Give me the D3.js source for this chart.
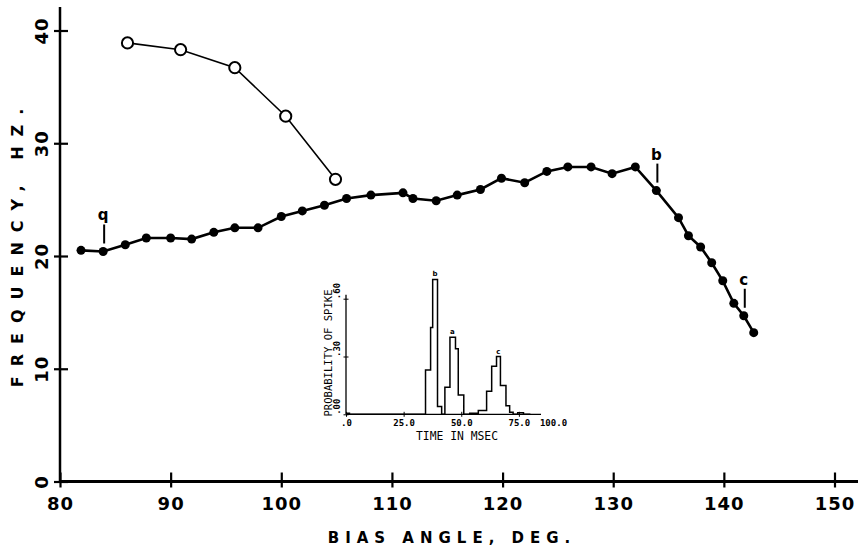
<!DOCTYPE html>
<html>
<head>
<meta charset="utf-8">
<script src="https://cdn.jsdelivr.net/npm/d3@7/dist/d3.min.js"></script>
<style>
  html, body { margin: 0; padding: 0; background: #fff; }
  svg { display: block; }
</style>
</head>
<body>
<svg id="chart" width="858" height="550"></svg>
<script>
// ---------- data ----------
const biasAngle = [81.9, 83.9, 85.9, 87.8, 90.0, 91.9, 93.9, 95.8, 97.9, 100.0, 101.9, 103.9, 105.9, 108.1, 111.0, 111.9, 114.0, 115.9, 118.0, 119.9, 122.0, 124.0, 125.9, 128.0, 129.9, 132.0, 133.9, 135.9, 136.8, 137.9, 138.9, 139.9, 140.9, 141.8, 142.7];
const frequency = [20.5, 20.4, 21.0, 21.6, 21.6, 21.5, 22.1, 22.5, 22.5, 23.5, 24.0, 24.5, 25.1, 25.4, 25.6, 25.1, 24.9, 25.4, 25.9, 26.9, 26.5, 27.5, 27.9, 27.9, 27.3, 27.9, 25.8, 23.4, 21.8, 20.8, 19.4, 17.8, 15.8, 14.7, 13.2];

const openAngle = [86.1, 90.9, 95.8, 100.4, 104.9];
const openFreq = [38.9, 38.3, 36.7, 32.4, 26.8];

// marked points a, b, c on the main curve
const markLabels = ["q", "b", "c"];
const markAngle = [83.9, 133.9, 141.8];
const markFreq = [20.4, 25.8, 14.7];

const xTicks = [80, 90, 100, 110, 120, 130, 140, 150];
const yTicks = [0, 10, 20, 30, 40];

// inset histogram (bin start in msec, probability of spike)
const binStart = [0, 1.5, 33.5, 34.5, 36.7, 37.6, 39.7, 41.5, 42.9, 45.1, 47.5, 48.7, 51.1, 53.7, 57.4, 61.0, 63.2, 65.3, 67.0, 69.4, 71.0, 72.5, 74.5, 77.0];
const binProb  = [0.005, 0, 0, 0.23, 0.45, 0.70, 0.04, 0.0, 0.14, 0.40, 0.34, 0.10, 0.0, 0.005, 0.02, 0.12, 0.25, 0.30, 0.15, 0.045, 0.01, 0.0, 0.008, 0.0];
const binEnd = 80;
const peakLabels = ["b", "a", "c"];
const peakTime = [38.6, 46.2, 66.1];
const peakProb = [0.70, 0.40, 0.30];
const insetXTicks = [0, 25, 50, 75, 100];
const insetXTickLabels = [".0", "25.0", "50.0", "75.0", "100.0"];
const insetYTicks = [0, 0.30, 0.60];
const insetYTickLabels = [".00", ".30", ".60"];

// ---------- chart ----------
const svg = d3.select("#chart");
const FONT = "'DejaVu Sans', sans-serif";
const MONO = "'DejaVu Sans Mono', monospace";

const x = d3.scaleLinear().domain([80, 150]).range([60, 834.5]);
const y = d3.scaleLinear().domain([0, 40]).range([481.5, 30.5]);

// axes lines
svg.append("line").attr("x1", x(80)).attr("x2", 858).attr("y1", y(0)).attr("y2", y(0))
  .attr("stroke", "#000").attr("stroke-width", 3);
svg.append("line").attr("x1", x(80)).attr("x2", x(80)).attr("y1", 7).attr("y2", y(0))
  .attr("stroke", "#000").attr("stroke-width", 2.5);

// x axis ticks (via d3 axis)
const gx = svg.append("g").attr("transform", `translate(0,${y(0)})`)
  .call(d3.axisBottom(x).tickValues(xTicks).tickSize(0).tickFormat(d => d));
gx.select(".domain").remove();
gx.selectAll(".tick line").attr("y1", -9).attr("y2", 6).attr("stroke-width", 2.2);
gx.selectAll(".tick text").attr("dy", null).attr("y", 28)
  .attr("font-family", FONT).attr("font-weight", "bold").attr("font-size", 18)
  .attr("letter-spacing", 1).attr("fill", "#000");

// y axis ticks
const gy = svg.append("g").attr("transform", `translate(${x(80)},0)`)
  .call(d3.axisLeft(y).tickValues(yTicks).tickSize(0).tickFormat(d => d));
gy.select(".domain").remove();
gy.selectAll(".tick line").attr("x1", -6).attr("x2", 8).attr("stroke-width", 2.2);
gy.selectAll(".tick text").attr("x", null).attr("dy", null)
  .attr("transform", "translate(-19,0) rotate(-90)")
  .attr("text-anchor", "middle").attr("dominant-baseline", "central")
  .attr("font-family", FONT).attr("font-weight", "bold").attr("font-size", 18)
  .attr("letter-spacing", 1).attr("fill", "#000");

// axis titles
svg.append("text").attr("x", 452).attr("y", 543).attr("text-anchor", "middle")
  .attr("font-family", FONT).attr("font-weight", "bold").attr("font-size", 15)
  .attr("letter-spacing", 6).text("BIAS ANGLE, DEG.");
svg.append("text").attr("transform", "translate(23,243) rotate(-90)").attr("text-anchor", "middle")
  .attr("font-family", FONT).attr("font-weight", "bold").attr("font-size", 16)
  .attr("letter-spacing", 10).text("FREQUENCY, HZ.");

// open-circle series
const openData = openAngle.map((a, i) => [a, openFreq[i]]);
svg.append("path").datum(openData)
  .attr("d", d3.line().x(d => x(d[0])).y(d => y(d[1])))
  .attr("fill", "none").attr("stroke", "#000").attr("stroke-width", 1.6);
svg.selectAll(".open").data(openData).enter().append("circle")
  .attr("cx", d => x(d[0])).attr("cy", d => y(d[1])).attr("r", 5.6)
  .attr("fill", "#fff").attr("stroke", "#000").attr("stroke-width", 2);

// filled series
const mainData = biasAngle.map((a, i) => [a, frequency[i]]);
svg.append("path").datum(mainData)
  .attr("d", d3.line().x(d => x(d[0])).y(d => y(d[1])))
  .attr("fill", "none").attr("stroke", "#000").attr("stroke-width", 2.6);
svg.selectAll(".dot").data(mainData).enter().append("circle")
  .attr("cx", d => x(d[0])).attr("cy", d => y(d[1])).attr("r", 4.5).attr("fill", "#000");

// markers a, b, c
markLabels.forEach((lab, i) => {
  const px = x(markAngle[i]), py = y(markFreq[i]);
  svg.append("line").attr("x1", px + 1).attr("x2", px + 1).attr("y1", py - 8).attr("y2", py - 27)
    .attr("stroke", "#000").attr("stroke-width", 2);
  svg.append("text").attr("x", px).attr("y", py - 31).attr("text-anchor", "middle")
    .attr("font-family", FONT).attr("font-weight", "bold").attr("font-size", 15)
    .text(lab);
});

// ---------- inset histogram ----------
const ix = d3.scaleLinear().domain([0, 100]).range([346, 576.5]);
const iy = d3.scaleLinear().domain([0, 0.60]).range([414.3, 298.7]);

// axes
svg.append("line").attr("x1", ix(0)).attr("x2", 541).attr("y1", iy(0)).attr("y2", iy(0))
  .attr("stroke", "#000").attr("stroke-width", 1.3);
svg.append("line").attr("x1", ix(0)).attr("x2", ix(0)).attr("y1", iy(0)).attr("y2", iy(0.62))
  .attr("stroke", "#000").attr("stroke-width", 1.3);

const gix = svg.append("g").attr("transform", `translate(0,${iy(0)})`)
  .call(d3.axisBottom(ix).tickValues(insetXTicks.slice(0, 4)).tickSize(0)
    .tickFormat((d, i) => insetXTickLabels[i]));
gix.select(".domain").remove();
gix.selectAll(".tick line").attr("y1", -2.5).attr("y2", 2.5).attr("stroke-width", 1);
gix.selectAll(".tick text").attr("dy", null).attr("y", 12)
  .attr("font-family", MONO).attr("font-weight", "bold").attr("font-size", 9).attr("fill", "#000");
// last tick label of the inset time axis, printed left of its nominal place in the original
svg.append("text").attr("x", ix(insetXTicks[4]) - 23).attr("y", iy(0) + 12).attr("text-anchor", "middle")
  .attr("font-family", MONO).attr("font-weight", "bold").attr("font-size", 9)
  .text(insetXTickLabels[4]);

const giy = svg.append("g").attr("transform", `translate(${ix(0)},0)`)
  .call(d3.axisLeft(iy).tickValues(insetYTicks).tickSize(0).tickFormat((d, i) => insetYTickLabels[i]));
giy.select(".domain").remove();
giy.selectAll(".tick line").attr("x1", -2.5).attr("x2", 2.5).attr("stroke-width", 1);
giy.selectAll(".tick text").attr("x", null).attr("dy", null)
  .attr("transform", "translate(-6,0) rotate(-90)")
  .attr("text-anchor", "start").attr("dominant-baseline", "auto")
  .attr("font-family", MONO).attr("font-weight", "bold").attr("font-size", 9).attr("fill", "#000");

// histogram step outline
const histData = binStart.map((t, i) => [t, binProb[i]]).concat([[binEnd, 0]]);
svg.append("path").datum(histData)
  .attr("d", d3.line().x(d => ix(d[0])).y(d => iy(d[1])).curve(d3.curveStepAfter))
  .attr("fill", "none").attr("stroke", "#000").attr("stroke-width", 1.5);

peakLabels.forEach((lab, i) => {
  svg.append("text").attr("x", ix(peakTime[i])).attr("y", iy(peakProb[i]) - 3)
    .attr("text-anchor", "middle").attr("font-family", FONT).attr("font-weight", "bold")
    .attr("font-size", 7).text(lab);
});

// inset axis titles
svg.append("text").attr("x", 457).attr("y", 440).attr("text-anchor", "middle")
  .attr("font-family", MONO).attr("font-size", 12).attr("textLength", 82)
  .attr("lengthAdjust", "spacingAndGlyphs").text("TIME IN MSEC");
svg.append("text").attr("transform", "translate(332,353) rotate(-90)").attr("text-anchor", "middle")
  .attr("font-family", MONO).attr("font-size", 11).attr("textLength", 127)
  .attr("lengthAdjust", "spacingAndGlyphs").text("PROBABILITY OF SPIKE");
</script>
</body>
</html>
